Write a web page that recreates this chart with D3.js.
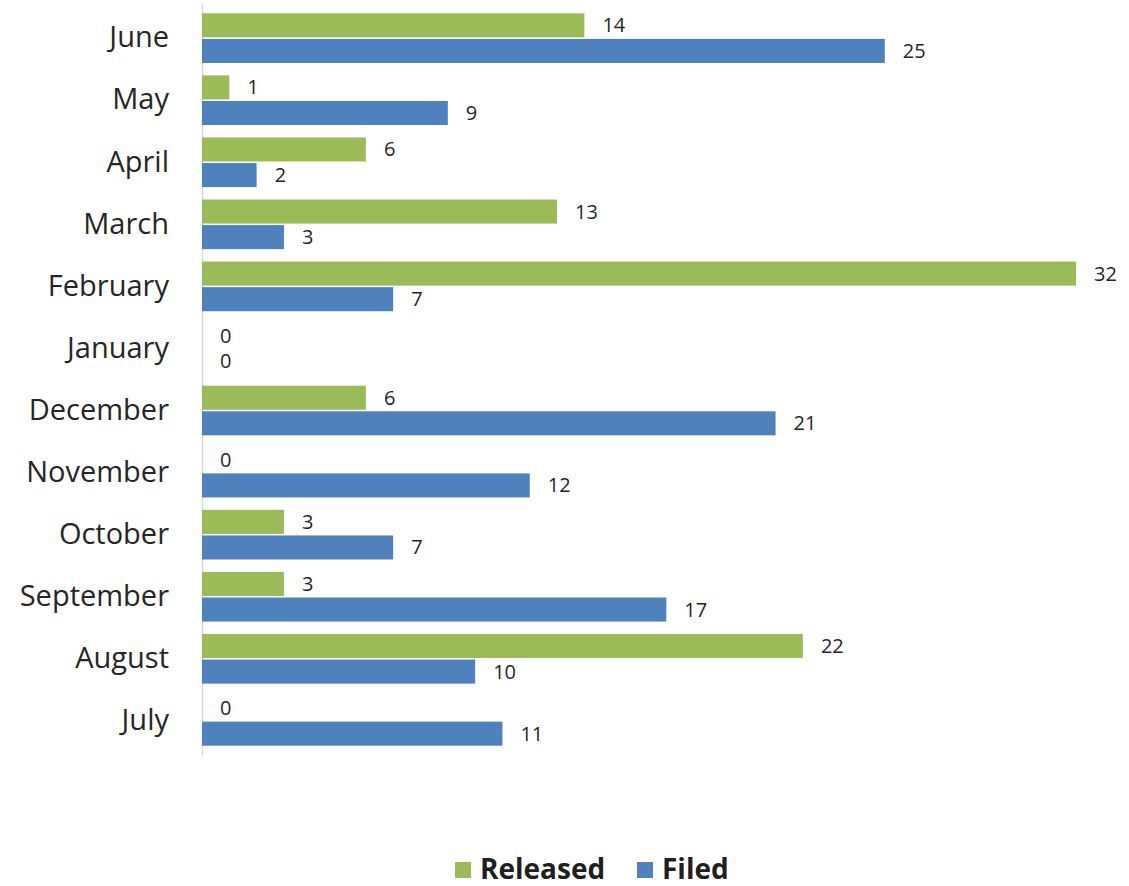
<!DOCTYPE html>
<html>
<head>
<meta charset="utf-8">
<script src="https://cdn.jsdelivr.net/npm/d3@7"></script>
<style>
  body { margin: 0; background: #fff; }
  text { font-family: "Open Sans", "Noto Sans", sans-serif; fill: #262626; }
</style>
</head>
<body>
<div id="chart"></div>
<script>
// months listed top to bottom as they appear
const months = ["June", "May", "April", "March", "February", "January",
                "December", "November", "October", "September", "August", "July"];
const released = [14, 1, 6, 13, 32, 0, 6, 0, 3, 3, 22, 0];
const filed = [25, 9, 2, 3, 7, 0, 21, 12, 7, 17, 10, 11];
const seriesNames = ["Released", "Filed"];
const seriesColors = ["#9BBB59", "#4F81BD"];

const width = 1129, height = 886;

const svg = d3.select("#chart").append("svg")
    .attr("width", width)
    .attr("height", height);

const x = d3.scaleLinear()
    .domain([0, 32])
    .range([202, 1076]);

const y = d3.scaleBand()
    .domain(months)
    .range([4, 755])
    .paddingInner(0.2)
    .paddingOuter(0.15);

const ySub = d3.scaleBand()
    .domain(seriesNames)
    .range([0, y.bandwidth()])
    .paddingInner(0.06);

const color = d3.scaleOrdinal().domain(seriesNames).range(seriesColors);

let rows = months.map(function(m, i) {
    return { month: m, values: [
        { name: "Released", value: released[i] },
        { name: "Filed", value: filed[i] }
    ]};
});

// category axis
const yAxis = d3.axisLeft(y).tickSize(0).tickPadding(33);
const gy = svg.append("g")
    .attr("class", "y-axis")
    .attr("transform", "translate(202,0)")
    .call(yAxis);
gy.select(".domain").attr("stroke", "#d9d9d9").attr("stroke-width", 1.5);
gy.selectAll("text")
    .attr("font-size", "29px")
    .style("fill", "#262626");

let groups = svg.selectAll(".group")
    .data(rows)
    .enter()
    .append("g")
    .attr("class", "group")
    .attr("transform", function(d) { return "translate(0," + y(d.month) + ")"; });

groups.selectAll("rect")
    .data(function(d) { return d.values; })
    .enter()
    .append("rect")
    .attr("x", x(0))
    .attr("y", function(d) { return ySub(d.name); })
    .attr("width", function(d) { return x(d.value) - x(0); })
    .attr("height", ySub.bandwidth())
    .attr("fill", function(d) { return color(d.name); });

groups.selectAll(".label")
    .data(function(d) { return d.values; })
    .enter()
    .append("text")
    .attr("class", "label")
    .attr("x", function(d) { return x(d.value) + 18; })
    .attr("y", function(d) { return ySub(d.name) + ySub.bandwidth() / 2; })
    .attr("dy", "0.35em")
    .attr("font-size", "20px")
    .text(function(d) { return d.value; });

// legend
const legend = svg.append("g").attr("class", "legend");
const legendX = [455, 637];
seriesNames.forEach(function(s, i) {
    legend.append("rect")
        .attr("x", legendX[i])
        .attr("y", 862)
        .attr("width", 16)
        .attr("height", 16)
        .attr("fill", color(s));
    legend.append("text")
        .attr("x", legendX[i] + 25)
        .attr("y", 869)
        .attr("dy", "0.36em")
        .attr("font-size", "28px")
        .attr("font-weight", "bold")
        .style("fill", "#1f1f1f")
        .text(s);
});
</script>
</body>
</html>
